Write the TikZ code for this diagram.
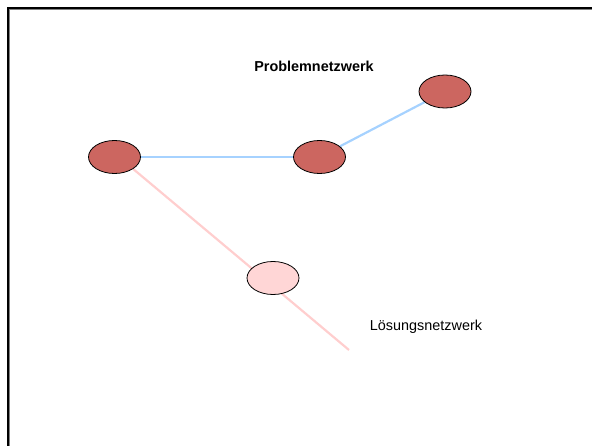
\documentclass[tikz,border=0pt]{standalone}
\usepackage{fontspec}
\setmainfont{Liberation Sans}
\usetikzlibrary{shapes.geometric,backgrounds}
\definecolor{knotred}{RGB}{204,102,96}
\definecolor{knotpink}{RGB}{255,214,214}
\definecolor{linkblue}{RGB}{166,210,255}
\definecolor{linkpink}{RGB}{255,206,206}

\begin{document}
\begin{tikzpicture}[x=1pt,y=-1pt,
    knot/.style={ellipse,draw=black,line width=0.8pt,fill=knotred,
        minimum width=52pt,minimum height=33pt,inner sep=0pt},
    loesknot/.style={knot,fill=knotpink},
    problink/.style={draw=linkblue,line width=2.2pt},
    loeslink/.style={draw=linkpink,line width=2.2pt},
    label/.style={font=\fontsize{14.4}{16}\selectfont,inner sep=0pt}]
        \useasboundingbox (0,0) rectangle (592,446);
        % rahmen
        \draw[gray,line width=1.5pt] (9.4,9.4) rectangle (640,480);
        \draw[black,line width=2.3pt] (7.8,7.8) rectangle (640,480);
        \node[label,font=\fontsize{14.4}{16}\selectfont\bfseries] (ptext) at (314,66) {Problemnetzwerk};
        \node[label] (ltext) at (426,327) {Lösungsnetzwerk};
        \node[knot] (a) at (114.5,157) {};
        \node[knot] (b) at (319.5,157) {};
        \node[knot] (c) at (445,91.5) {};
        \node[loesknot] (d) at (273,278) {};
        \coordinate (e) at (349,350);
        \begin{pgfonlayer}{background}
        \draw[problink] (a) -- (b);
        \draw[problink] (b) -- (c);
        \draw[loeslink] (a.south east) -- (e);
        \end{pgfonlayer}
    \end{tikzpicture}
\end{document}
